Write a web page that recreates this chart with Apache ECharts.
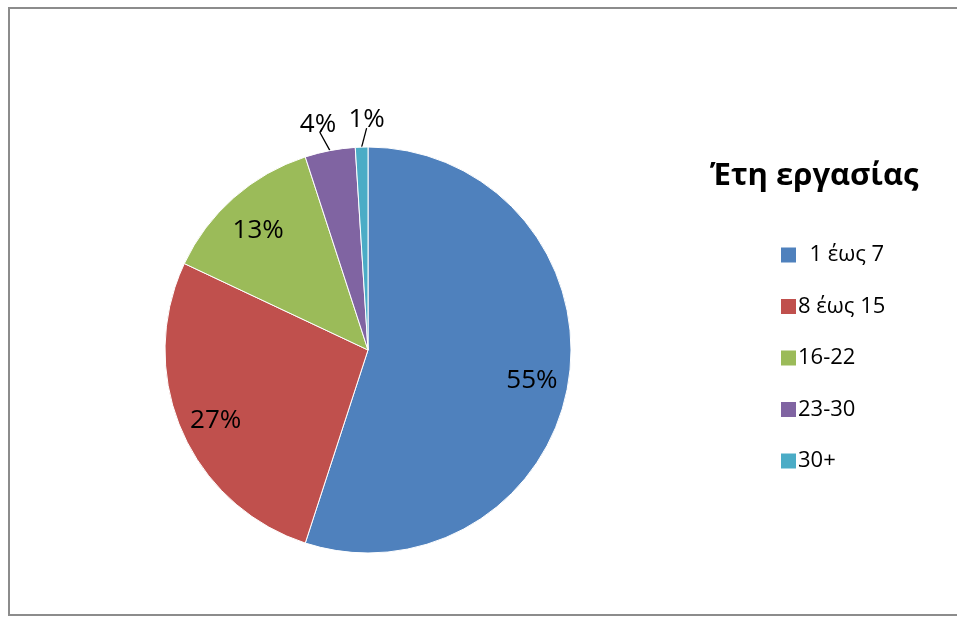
<!DOCTYPE html>
<html>
<head>
<meta charset="utf-8">
<script src="https://cdn.jsdelivr.net/npm/echarts@6/dist/echarts.min.js"></script>
<style>
html,body{margin:0;padding:0;background:#fff;overflow:hidden;}
#c{width:957px;height:619px;}
</style>
</head>
<body>
<div id="c"></div>
<script>
var categories = ['  1 έως 7', '8 έως 15', '16-22', '23-30', '30+'];
var values = [55, 27, 13, 4, 1];
var colors = ['#4F81BD', '#C0504D', '#9BBB59', '#8064A2', '#4BACC6'];
var legendTitle = 'Έτη εργασίας';

var FONT = '"Open Sans", "Liberation Sans", sans-serif';
var outsideIdx = [3, 4];
var labelShift = { 3: [-12, -26], 4: [5, -28] };
var lineShape = { 3: [[0, 0], [-10, -18], [-8, -22]], 4: [[0, 0], [2.5, -9.5], [5, -19]] };

var mainData = categories.map(function (n, i) {
  var outside = outsideIdx.indexOf(i) >= 0;
  return {
    name: n, value: values[i],
    itemStyle: { color: colors[i] },
    label: { show: outside },
    labelLine: { show: outside }
  };
});
var ghostData = categories.map(function (n, i) {
  var outside = outsideIdx.indexOf(i) >= 0;
  return { name: n, value: values[i], label: { show: !outside } };
});

var chart = echarts.init(document.getElementById('c'), null, { renderer: 'canvas' });
chart.setOption({
  animation: false,
  backgroundColor: '#fff',
  graphic: [{
    type: 'rect', silent: true,
    shape: { x: 9, y: 8, width: 1100, height: 607 },
    style: { fill: 'none', stroke: '#8c8c8c', lineWidth: 2 }
  }],
  title: {
    text: legendTitle, left: 705, top: 156,
    textStyle: { fontFamily: FONT, fontWeight: 'bold', fontSize: 31, color: '#000' }
  },
  legend: {
    orient: 'vertical', left: 774, top: 239,
    icon: 'rect', itemWidth: 17, itemHeight: 17, itemGap: 29.5,
    selectedMode: false,
    data: categories,
    textStyle: { fontFamily: FONT, fontSize: 22, color: '#000', padding: [0, 0, 0, -4] }
  },
  series: [{
    type: 'pie',
    center: [368, 350], radius: 203,
    startAngle: 90, clockwise: true,
    silent: true,
    itemStyle: { borderColor: '#fff', borderWidth: 1 },
    label: {
      position: 'outside', formatter: '{d}%',
      fontFamily: FONT, fontSize: 26, color: '#000'
    },
    labelLine: { length: 10, length2: 0, lineStyle: { color: '#000', width: 1.3 } },
    labelLayout: function (p) {
      var pts = p.labelLinePoints;
      if (!pts || !labelShift[p.dataIndex]) return {};
      var e = pts[0], s = labelShift[p.dataIndex];
      return {
        x: e[0] + s[0], y: e[1] + s[1], align: 'center', verticalAlign: 'middle',
        labelLinePoints: lineShape[p.dataIndex].map(function (q) { return [e[0] + q[0], e[1] + q[1]]; })
      };
    },
    data: mainData
  }, {
    type: 'pie',
    center: [368, 350], radius: [123, 203],
    startAngle: 90, clockwise: true,
    silent: true,
    itemStyle: { color: 'rgba(0,0,0,0)', borderWidth: 0 },
    emphasis: { disabled: true },
    label: {
      position: 'inside', formatter: '{d}%',
      fontFamily: FONT, fontSize: 26, color: '#000'
    },
    labelLayout: { dy: 5 },
    labelLine: { show: false },
    data: ghostData
  }]
});
</script>
</body>
</html>
